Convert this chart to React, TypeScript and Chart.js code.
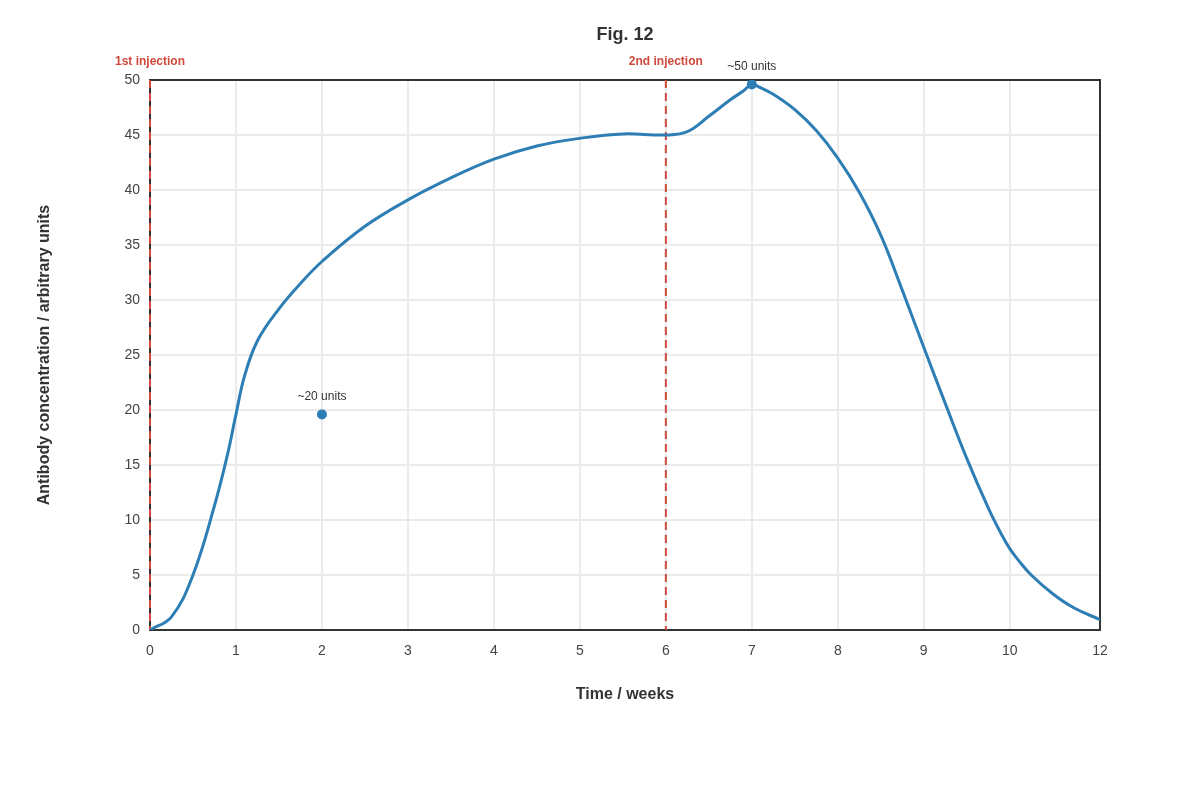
import React, { useEffect, useRef } from 'react'
import { Chart, registerables } from 'chart.js'

Chart.register(...registerables)

// x is an axis position: weeks 0..10 one unit apart, the last tick (12) sits at 11.05
const xTickLabels = ['0', '1', '2', '3', '4', '5', '6', '7', '8', '9', '10', '12']
const xTickPositions = [0, 1, 2, 3, 4, 5, 6, 7, 8, 9, 10, 11.05]

// antibody curve
const curveX = [0, 0.25, 0.5, 0.75, 0.9, 1, 1.1, 1.25, 1.5, 1.75, 2, 2.5, 3, 3.5, 4, 4.5, 5, 5.5, 6, 6.25, 6.5, 6.75, 6.9, 7, 7.1, 7.25, 7.5, 7.75, 8, 8.25, 8.5, 8.75, 9, 9.25, 9.5, 9.75, 9.9, 10, 10.1, 10.25, 10.5, 10.75, 11.05]
const curveY = [0, 1.2, 5.0, 11.3, 15.9, 19.6, 23.1, 26.3, 29.2, 31.5, 33.5, 36.7, 39.1, 41.1, 42.8, 44.0, 44.7, 45.1, 45.0, 45.3, 46.7, 48.2, 49.0, 49.6, 49.3, 48.7, 47.3, 45.4, 42.9, 39.8, 35.9, 30.9, 25.7, 20.6, 15.6, 11.1, 8.75, 7.4, 6.35, 5.0, 3.3, 2.0, 0.95]

const markerX = [2, 7]
const markerY = [19.6, 49.6]
const markerLabels = ['~20 units', '~50 units']

const injectionX = [0, 6]
const injectionLabels = ['1st injection', '2nd injection']

const BLUE = '#2e7eb6'
const RED = '#cf4a3c'
const FONT = "'Liberation Sans', Arial, sans-serif"

const overlayPlugin = {
  id: 'overlay',
  beforeDatasetsDraw(chart: any) {
    const { ctx, chartArea: a, scales } = chart
    ctx.save()
    ctx.strokeStyle = '#333'
    ctx.lineWidth = 2
    ctx.strokeRect(a.left, a.top, a.right - a.left, a.bottom - a.top)
    ctx.strokeStyle = RED
    ctx.setLineDash([8, 5])
    injectionX.forEach(v => {
      const px = scales.x.getPixelForValue(v)
      ctx.beginPath()
      ctx.moveTo(px, a.top)
      ctx.lineTo(px, a.bottom)
      ctx.stroke()
    })
    ctx.restore()
  },
  afterDatasetsDraw(chart: any) {
    const { ctx, chartArea: a, scales } = chart
    ctx.save()
    ctx.textAlign = 'center'
    ctx.textBaseline = 'middle'
    ctx.font = `bold 12px ${FONT}`
    ctx.fillStyle = RED
    injectionX.forEach((v, i) => {
      ctx.fillText(injectionLabels[i], scales.x.getPixelForValue(v), a.top - 18)
    })
    ctx.font = `12px ${FONT}`
    ctx.fillStyle = '#333'
    markerX.forEach((v, i) => {
      ctx.fillText(markerLabels[i], scales.x.getPixelForValue(v), scales.y.getPixelForValue(markerY[i]) - 17.5)
    })
    ctx.restore()
  },
}

export default function App() {
  const canvasRef = useRef<HTMLCanvasElement>(null)

  useEffect(() => {
    if (!canvasRef.current) return
    Chart.defaults.font.family = FONT

    const chart = new Chart(canvasRef.current, {
      type: 'line',
      data: {
        datasets: [
          {
            type: 'scatter',
            data: markerX.map((x, i) => ({ x, y: markerY[i] })),
            pointRadius: 5,
            pointBackgroundColor: BLUE,
            pointBorderWidth: 0,
            showLine: false,
          },
          {
            data: curveX.map((x, i) => ({ x, y: curveY[i] })),
            borderColor: BLUE,
            borderWidth: 3,
            pointRadius: 0,
            tension: 0.4,
            fill: false,
          },
        ],
      },
      options: {
        animation: false,
        responsive: true,
        maintainAspectRatio: false,
        layout: { padding: { left: 0, right: 100, top: 0, bottom: 0 } },
        plugins: {
          legend: { display: false },
          tooltip: { enabled: false },
          title: {
            display: true,
            text: 'Fig. 12',
            fullSize: false,
            color: '#333',
            font: { size: 18, weight: 'bold' },
            padding: { top: 24, bottom: 34.4 },
          },
        },
        scales: {
          x: {
            type: 'linear',
            min: 0,
            max: xTickPositions[xTickPositions.length - 1],
            afterFit: (s: any) => { s.height = 170 },
            afterBuildTicks: (s: any) => { s.ticks = xTickPositions.map(value => ({ value })) },
            border: { display: false },
            grid: { color: '#ebebeb', lineWidth: 2, drawTicks: false },
            ticks: {
              padding: 13,
              color: '#444',
              font: { size: 14 },
              callback: (_v: any, i: number) => xTickLabels[i] ?? '',
            },
            title: {
              display: true,
              text: 'Time / weeks',
              color: '#333',
              font: { size: 16, weight: 'bold' },
              padding: { top: 0, bottom: 95.4 },
            },
          },
          y: {
            min: 0,
            max: 50,
            afterFit: (s: any) => { s.width = 150 },
            border: { display: false },
            grid: { color: '#ebebeb', lineWidth: 2, drawTicks: false },
            ticks: { stepSize: 5, padding: 10, color: '#444', font: { size: 14 } },
            title: {
              display: true,
              text: 'Antibody concentration / arbitrary units',
              color: '#333',
              font: { size: 16, weight: 'bold' },
              padding: { top: 35.4, bottom: 0 },
            },
          },
        },
      },
      plugins: [overlayPlugin],
    })

    return () => chart.destroy()
  }, [])

  return (
    <div style={{ position: 'absolute', left: 0, top: 0, width: 1200, height: 800, background: '#fff' }}>
      <canvas ref={canvasRef} />
    </div>
  )
}
